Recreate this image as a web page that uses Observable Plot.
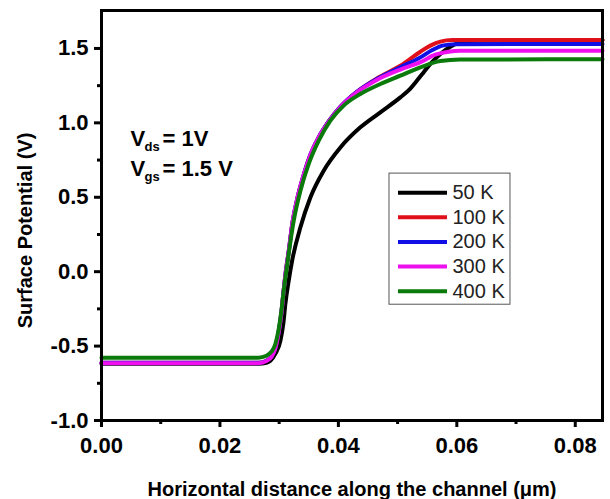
<!DOCTYPE html>
<html><head><meta charset="utf-8">
<script src="https://cdn.jsdelivr.net/npm/d3@7"></script>
<script src="https://cdn.jsdelivr.net/npm/@observablehq/plot@0.6"></script>
<style>
html,body{margin:0;padding:0;background:#fff;}
#chart svg{display:block;}
</style></head><body><div id="chart"></div>
<script>
// ---- data ----
const seriesNames = ["50 K", "100 K", "200 K", "300 K", "400 K"];
const seriesColors = ["#000000", "#e0101a", "#1010e6", "#ee10ee", "#0a7a0a"];

const x50 = [0, 0.0265, 0.02785, 0.02852, 0.02937, 0.03021, 0.03072, 0.03105, 0.03156, 0.03219, 0.03359, 0.03527, 0.03752, 0.04034, 0.04371, 0.04709, 0.05046, 0.05215, 0.05328, 0.05435, 0.05553, 0.05722, 0.0589, 0.06059, 0.06312, 0.0846];
const y50 = [-0.618, -0.618, -0.612, -0.598, -0.551, -0.464, -0.343, -0.215, -0.074, 0.074, 0.298, 0.499, 0.679, 0.835, 0.970, 1.071, 1.171, 1.230, 1.284, 1.337, 1.396, 1.463, 1.512, 1.539, 1.552, 1.556];

const x100 = [0, 0.0265, 0.02785, 0.02869, 0.02937, 0.02987, 0.03038, 0.03072, 0.03114, 0.03156, 0.03225, 0.03310, 0.03411, 0.03529, 0.03664, 0.03833, 0.04036, 0.04318, 0.04656, 0.05046, 0.05384, 0.05553, 0.05722, 0.05924, 0.0846];
const y100 = [-0.612, -0.612, -0.598, -0.571, -0.511, -0.417, -0.276, -0.141, 0.007, 0.122, 0.330, 0.498, 0.646, 0.787, 0.901, 1.008, 1.109, 1.210, 1.300, 1.384, 1.478, 1.519, 1.546, 1.556, 1.557];

const x200 = [0, 0.0265, 0.02785, 0.02869, 0.02937, 0.02987, 0.03038, 0.03072, 0.03114, 0.03156, 0.03225, 0.03310, 0.03411, 0.03529, 0.03664, 0.03833, 0.04036, 0.04318, 0.04656, 0.05046, 0.05384, 0.05586, 0.05755, 0.05975, 0.0846];
const y200 = [-0.612, -0.612, -0.598, -0.571, -0.511, -0.417, -0.276, -0.141, 0.007, 0.122, 0.330, 0.498, 0.646, 0.787, 0.901, 1.008, 1.109, 1.210, 1.296, 1.373, 1.440, 1.489, 1.519, 1.529, 1.530];

const x300 = [0, 0.0265, 0.02785, 0.02869, 0.02937, 0.02987, 0.03038, 0.03072, 0.03114, 0.03156, 0.03225, 0.03310, 0.03411, 0.03529, 0.03664, 0.03833, 0.04036, 0.04318, 0.04656, 0.05046, 0.05384, 0.05637, 0.05857, 0.06059, 0.0846];
const y300 = [-0.615, -0.615, -0.600, -0.573, -0.513, -0.419, -0.278, -0.143, 0.005, 0.120, 0.328, 0.496, 0.644, 0.785, 0.899, 1.005, 1.106, 1.206, 1.290, 1.358, 1.408, 1.458, 1.478, 1.485, 1.485];

const x400 = [0, 0.0265, 0.02785, 0.02869, 0.02937, 0.02987, 0.03038, 0.03077, 0.03122, 0.03161, 0.03246, 0.03359, 0.03499, 0.03668, 0.03865, 0.04089, 0.04371, 0.04709, 0.05046, 0.05384, 0.05722, 0.06059, 0.0846];
const y400 = [-0.578, -0.578, -0.565, -0.538, -0.484, -0.397, -0.262, -0.128, 0.007, 0.121, 0.343, 0.544, 0.724, 0.880, 1.015, 1.116, 1.194, 1.261, 1.317, 1.373, 1.415, 1.425, 1.428];

const xTicks = [0, 0.02, 0.04, 0.06, 0.08];
const xTickLabels = ["0.00", "0.02", "0.04", "0.06", "0.08"];
const xMinorTicks = [0.01, 0.03, 0.05, 0.07];
const yTicks = [-1, -0.5, 0, 0.5, 1, 1.5];
const yTickLabels = ["-1.0", "-0.5", "0.0", "0.5", "1.0", "1.5"];
const yMinorTicks = [-0.75, -0.25, 0.25, 0.75, 1.25];
const xLabel = "Horizontal distance along the channel (\u03BCm)";
const yLabel = "Surface Potential (V)";
const annMain = ["V", "V"];
const annSub = ["ds", "gs"];
const annRest = ["= 1V", "= 1.5 V"];

// ---- build tables ----
const xsAll = [x50, x100, x200, x300, x400];
const ysAll = [y50, y100, y200, y300, y400];
const rows = seriesNames.flatMap((s, i) => xsAll[i].map((x, j) => ({series: s, x, y: ysAll[i][j]})));

const legendY0 = 0.531, legendStep = 0.1655;
const legendRows = seriesNames.map((s, i) => ({series: s, y: legendY0 - i * legendStep}));
const annRows = annMain.map((m, i) => ({x: 0.0049, y: [0.8475, 0.646][i], main: m, sub: annSub[i], rest: annRest[i]}));

const font = "'Liberation Sans', Arial, Helvetica, sans-serif";

const chart = Plot.plot({
  width: 610,
  height: 499,
  marginLeft: 101,
  marginRight: 8,
  marginTop: 10,
  marginBottom: 79,
  style: {fontFamily: font, background: "#fff", color: "#000", overflow: "visible"},
  x: {domain: [0, 0.0846]},
  y: {domain: [-1.0, 1.755]},
  color: {domain: seriesNames, range: seriesColors},
  marks: [
    Plot.line(rows, {x: "x", y: "y", z: "series", stroke: "series", strokeWidth: 4, curve: "monotone-x"}),
    Plot.rect([0], {x1: 0.04863, x2: 0.06906, y1: -0.222, y2: 0.659, fill: "white", stroke: "#555", strokeWidth: 1}),
    Plot.ruleY(legendRows, {x1: 0.05015, x2: 0.05843, y: "y", stroke: "series", strokeWidth: 4}),
    Plot.text(legendRows, {x: 0.05927, y: "y", text: "series", textAnchor: "start", fontSize: 20, fill: "#222"}),
    Plot.text(annRows, {x: "x", y: "y", text: "main", textAnchor: "start", lineAnchor: "bottom", fontSize: 22, fontWeight: "bold"}),
    Plot.text(annRows, {x: "x", y: "y", text: "sub", textAnchor: "start", lineAnchor: "bottom", dx: 14, dy: 5, fontSize: 13, fontWeight: "bold"}),
    Plot.text(annRows, {x: "x", y: "y", text: "rest", textAnchor: "start", lineAnchor: "bottom", dx: 32, fontSize: 22, fontWeight: "bold"}),
    Plot.frame({stroke: "#000", strokeWidth: 3}),
    Plot.axisX({ticks: xTicks, tickFormat: d => xTickLabels[xTicks.indexOf(d)], tickSize: 7, tickPadding: 10, fontSize: 22, fontWeight: "bold", strokeWidth: 3, label: null}),
    Plot.axisX({ticks: xMinorTicks, tickFormat: () => "", tickSize: 4, strokeWidth: 3, label: null}),
    Plot.axisY({ticks: yTicks, tickFormat: d => yTickLabels[yTicks.indexOf(d)], tickSize: 7, tickPadding: 6, fontSize: 22, fontWeight: "bold", strokeWidth: 3, label: null}),
    Plot.axisY({ticks: yMinorTicks, tickFormat: () => "", tickSize: 4, strokeWidth: 3, label: null}),
    Plot.text([yLabel], {frameAnchor: "left", text: d => d, textAnchor: "middle", lineAnchor: "middle", rotate: -90, dx: -76, dy: 15, fontSize: 20, fontWeight: "bold"}),
    Plot.text([xLabel], {frameAnchor: "bottom", text: d => d, textAnchor: "middle", lineAnchor: "bottom", dy: 75, fontSize: 20, fontWeight: "bold"})
  ]
});
document.getElementById("chart").appendChild(chart);
</script>
</body></html>
